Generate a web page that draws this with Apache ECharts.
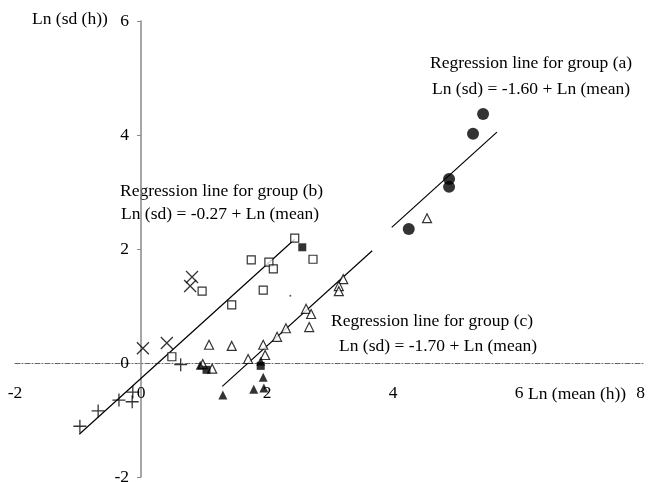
<!DOCTYPE html>
<html><head><meta charset="utf-8">
<script src="https://cdn.jsdelivr.net/npm/echarts@6/dist/echarts.min.js"></script>
<style>html,body{margin:0;padding:0;background:#fff}#c{width:648px;height:482px}</style>
</head><body><div id="c"></div>
<script>
var xTicks = [-2, 0, 2, 4, 6, 8];
var yTicks = [-2, 0, 2, 4, 6];
var circlesA = [[5.43,4.37],[5.27,4.02],[4.89,3.23],[4.89,3.09],[4.25,2.35]];
var openTri = [[4.54,2.54],[1.08,0.32],[1.44,0.30],[0.98,-0.02],[1.13,-0.10],[1.70,0.07],[1.94,0.32],[1.97,0.14],[2.16,0.46],[2.30,0.61],[2.62,0.95],[2.70,0.86],[2.67,0.63],[3.21,1.47],[3.14,1.35],[3.14,1.26]];
var filledTri = [[0.94,-0.04],[1.90,0.03],[1.94,-0.25],[1.79,-0.46],[1.95,-0.44],[1.30,-0.56]];
var filledSq = [[1.04,-0.12],[1.90,-0.05],[2.56,2.03]];
var openSq = [[2.44,2.19],[2.73,1.82],[1.75,1.81],[2.03,1.77],[2.10,1.65],[1.94,1.28],[0.97,1.26],[1.44,1.02],[0.49,0.11]];
var crosses = [[0.03,0.26],[0.41,0.35],[0.81,1.51],[0.78,1.35]];
var pluses = [[0.63,-0.03],[-0.13,-0.51],[-0.35,-0.65],[-0.14,-0.68],[-0.68,-0.84],[-0.97,-1.11]];
var dots = [[2.37,1.18]];
var lineA = [[3.98,2.38],[5.65,4.05]];
var lineB = [[-0.98,-1.25],[2.44,2.17]];
var lineC = [[1.29,-0.41],[3.67,1.97]];

var FONT = 'Liberation Serif';
var FS = 17.5;
var W = 648, H = 482;
var G = {left:15, right:3, top:21, bottom:5};
var gw = W - G.left - G.right, gh = H - G.top - G.bottom;
var xMin = xTicks[0], xMax = xTicks[xTicks.length-1];
var yMin = yTicks[0], yMax = yTicks[yTicks.length-1];
// shift axes so they cross at data zero
var xAxisOffset = -gh * (0 - yMin) / (yMax - yMin);
var yAxisOffset = -gw * (0 - xMin) / (xMax - xMin);

function txt(s, left, top) {
  return {type:'text', left:left, top:top, style:{text:s, fontFamily:FONT, fontSize:FS, fill:'#000'}};
}
function line(d){return {type:'line', data:d, symbol:'none', lineStyle:{color:'#000', width:1.2}, z:3};}
var chart = echarts.init(document.getElementById('c'));
chart.setOption({
  animation:false,
  grid:{left:G.left, right:G.right, top:G.top, bottom:G.bottom, containLabel:false, outerBoundsMode:'none'},
  xAxis:{type:'value', min:xMin, max:xMax, interval:2, position:'bottom', offset:xAxisOffset,
    axisLine:{onZero:false, lineStyle:{color:'#666', type:[5,2,1,2], width:1}},
    axisTick:{show:false}, splitLine:{show:false},
    axisLabel:{margin:21, fontFamily:FONT, fontSize:FS, color:'#000', hideOverlap:false, alignMaxLabel:'right'}},
  yAxis:{type:'value', min:yMin, max:yMax, interval:2, position:'left', offset:yAxisOffset,
    axisLine:{onZero:false, lineStyle:{color:'#888', width:1.5}},
    axisTick:{show:true, length:4, lineStyle:{color:'#888'}}, splitLine:{show:false},
    axisLabel:{margin:12, fontFamily:FONT, fontSize:FS, color:'#000', hideOverlap:false}},
  graphic:[
    txt('Ln (sd (h))', 32, 10),
    txt('Regression line for group (a)', 430, 54),
    txt('Ln (sd) = -1.60 + Ln (mean)', 432, 80),
    txt('Regression line for group (b)', 120, 182),
    txt('Ln (sd) = -0.27 + Ln (mean)', 121, 205),
    txt('Regression line for group (c)', 331, 312),
    txt('Ln (sd) = -1.70 + Ln (mean)', 339, 337),
    txt('Ln (mean (h))', 528, 385)
  ],
  series:[
    line(lineA), line(lineB), line(lineC),
    {type:'scatter', data:circlesA, symbol:'circle', symbolSize:12, itemStyle:{color:'#000'}, z:4},
    {type:'scatter', data:openTri, symbol:'triangle', symbolSize:9, itemStyle:{color:'#fff', borderColor:'#000', borderWidth:1.2}, z:4},
    {type:'scatter', data:filledTri, symbol:'triangle', symbolSize:9, itemStyle:{color:'#000'}, z:5},
    {type:'scatter', data:openSq, symbol:'rect', symbolSize:8, itemStyle:{color:'#fff', borderColor:'#000', borderWidth:1.2}, z:4},
    {type:'scatter', data:filledSq, symbol:'rect', symbolSize:8, itemStyle:{color:'#000'}, z:5},
    {type:'scatter', data:crosses, symbol:'path://M0,0L10,10M10,0L0,10', symbolSize:12, itemStyle:{color:'none', borderColor:'#000', borderWidth:1.3}, z:4},
    {type:'scatter', data:pluses, symbol:'path://M5,0L5,10M0,5L10,5', symbolSize:13, itemStyle:{color:'none', borderColor:'#000', borderWidth:1.3}, z:4},
    {type:'scatter', data:dots, symbol:'circle', symbolSize:2, itemStyle:{color:'#333'}, z:4}
  ]
});
</script></body></html>
